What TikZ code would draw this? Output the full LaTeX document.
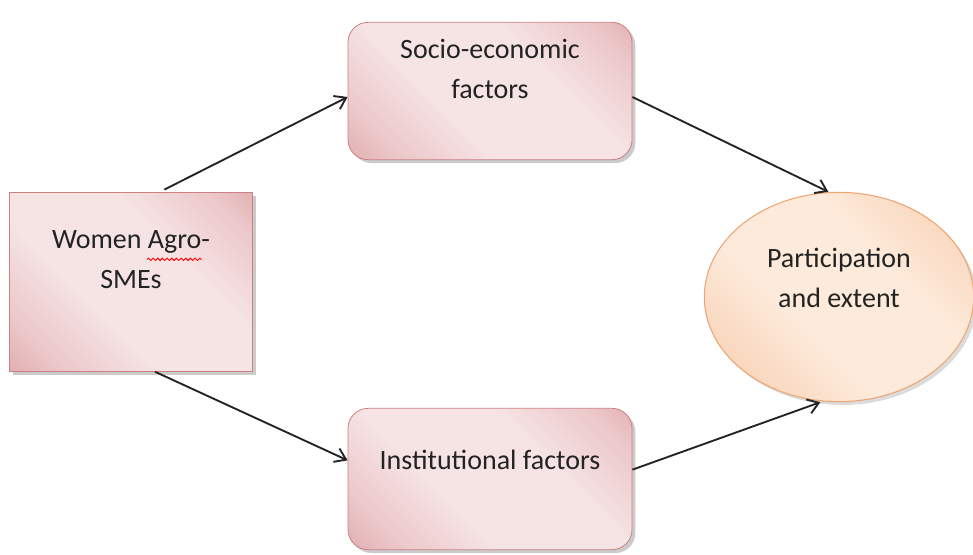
\documentclass[tikz,border=0pt]{standalone}
\usepackage{fontspec}
\setmainfont{Carlito}
\usepackage{tikz}
\usetikzlibrary{arrows, positioning, shapes.geometric, arrows.meta, shadows, decorations.pathmorphing}
\usepackage{color}
\definecolor{boxedge}{RGB}{204,128,131}
\definecolor{boxin}{RGB}{246,228,229}
\definecolor{boxmid}{RGB}{236,200,202}
\definecolor{boxout}{RGB}{210,136,140}
\definecolor{ovaledge}{RGB}{236,166,116}
\definecolor{ovalin}{RGB}{253,234,218}
\definecolor{ovalmid}{RGB}{249,214,188}
\definecolor{ovalout}{RGB}{242,188,148}
\definecolor{txt}{RGB}{35,35,35}
\pgfdeclarehorizontalshading{boxglow}{100bp}{color(0bp)=(boxout); color(24bp)=(boxmid); color(40bp)=(boxin); color(62bp)=(boxin); color(78bp)=(boxmid); color(100bp)=(boxout)}
\pgfdeclarehorizontalshading{ovalglow}{100bp}{color(0bp)=(ovalout); color(24bp)=(ovalmid); color(40bp)=(ovalin); color(62bp)=(ovalin); color(78bp)=(ovalmid); color(100bp)=(ovalout)}
\newcommand{\lifted}[2]{\raisebox{#1}[0pt][0pt]{\begin{tabular}{@{}c@{}}#2\end{tabular}}}

\begin{document}
\begin{tikzpicture}[x=0.75pt, y=-0.75pt, >={Straight Barb[length=8pt,width=11pt]},
    factor/.style={rectangle, draw=boxedge, line width=0.6pt, shading=boxglow, shading angle=45, text=txt, font=\fontsize{21}{30}\selectfont, drop shadow={shadow xshift=2.5pt, shadow yshift=-2.5pt, fill=black!45, opacity=0.45}},
    outcome/.style={ellipse, draw=ovaledge, line width=0.8pt, shading=ovalglow, shading angle=45, text=txt, font=\fontsize{21}{30}\selectfont, inner sep=0pt, drop shadow={shadow xshift=2.5pt, shadow yshift=-2.5pt, fill=black!40, opacity=0.35}},
    link/.style={->, draw=txt, line width=1.4pt}]
    \useasboundingbox (0,0) rectangle (973,554);

    \node [factor, minimum width=182pt, minimum height=134pt] (women) at (131,282) {\lifted{11pt}{Women Agro-\\SMEs}};
    \node [factor, rounded corners=15pt, minimum width=213pt, minimum height=103pt] (socio) at (490,91) {\lifted{10pt}{Socio-economic\\factors}};
    \node [factor, rounded corners=15pt, minimum width=213pt, minimum height=106pt] (inst) at (490,479) {\lifted{8pt}{Institutional factors}};
    \node [outcome, minimum width=202pt, minimum height=157pt] (part) at (839,297) {\lifted{8pt}{Participation\\and extent}};

    % spell-check mark under Agro
    \draw[red, line width=0.7pt, decorate, decoration={snake, amplitude=0.9pt, segment length=3.5pt}]
        ([xshift=12pt, yshift=17pt]women.center) -- ([xshift=53pt, yshift=17pt]women.center);

    \draw[link] ([yshift=2pt, xshift=25pt]women.north) -- ([yshift=-4.5pt]socio.west);
    \draw[link] ([xshift=18pt]women.south) -- ([yshift=14pt]inst.west);

    \draw[link] ([yshift=-4.5pt]socio.east) -- ([xshift=-8pt]part.north);
    \draw[link] ([yshift=7pt]inst.east) -- ([xshift=-14pt]part.south);
\end{tikzpicture}
\end{document}
